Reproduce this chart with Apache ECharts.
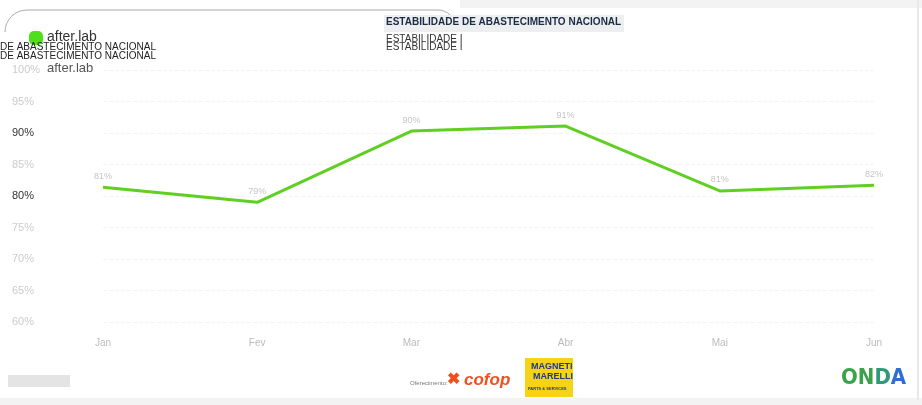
<!DOCTYPE html>
<html>
<head>
<meta charset="utf-8">
<script src="https://cdn.jsdelivr.net/npm/echarts@6/dist/echarts.min.js"></script>
<style>
  html, body { margin: 0; padding: 0; background: #fff; }
  #chart { width: 922px; height: 405px; }
</style>
</head>
<body>
<div id="chart"></div>
<script>
// dados
const categories = ['Jan', 'Fev', 'Mar', 'Abr', 'Mai', 'Jun']
const estabilidade = [81.4, 79.0, 90.3, 91.1, 80.8, 81.7]
const yMin = 60
const yMax = 100
const yStep = 5

const chart = echarts.init(document.getElementById('chart'))

chart.setOption({
  animation: false,
  // área do gráfico
  grid: { left: 103, right: 48, top: 70, height: 252 },
  xAxis: {
    type: 'category',
    boundaryGap: false,
    data: categories,
    axisLine: { show: false },
    axisTick: { show: false },
    axisLabel: { color: '#bbb', fontSize: 10, margin: 16 }
  },
  yAxis: {
    type: 'value',
    min: yMin,
    max: yMax,
    interval: yStep,
    axisLabel: {
      align: 'left',
      margin: 91,
      fontSize: 11,
      formatter: v => (v === 80 || v === 90) ? '{d|' + v + '%}' : '{g|' + v + '%}',
      rich: {
        d: { color: '#333', fontSize: 11 },
        g: { color: '#ccc', fontSize: 11 }
      }
    },
    splitLine: { lineStyle: { color: '#f4f4f4', type: 'dashed' } }
  },
  series: [
    {
      type: 'line',
      data: estabilidade,
      symbol: 'circle',
      symbolSize: 1,
      itemStyle: { color: 'rgba(0,0,0,0)' },
      lineStyle: { color: '#5fcf22', width: 3 },
      label: {
        show: true,
        position: 'top',
        distance: 6,
        color: '#c4c4c4',
        fontSize: 9,
        formatter: p => Math.round(p.value) + '%'
      }
    }
  ],
  // cabeçalho e rodapé
  graphic: [
    { type: 'rect', shape: { x: 460, y: 0, width: 462, height: 8 }, style: { fill: '#f3f3f3' } },
    // moldura arredondada do cartão (só a parte de cima)
    { type: 'arc', shape: { cx: 27, cy: 32, r: 22, startAngle: Math.PI, endAngle: Math.PI * 1.5 }, style: { fill: null, stroke: '#aaa', lineWidth: 1 } },
    { type: 'line', shape: { x1: 27, y1: 10, x2: 438, y2: 10 }, style: { stroke: '#aaa', lineWidth: 1 } },
    { type: 'arc', shape: { cx: 438, cy: 27, r: 17, startAngle: Math.PI * 1.5, endAngle: Math.PI * 2 }, style: { fill: null, stroke: '#aaa', lineWidth: 1 } },
    { type: 'rect', shape: { x: 0, y: 398, width: 922, height: 7 }, style: { fill: '#f3f3f3' } },
    { type: 'rect', shape: { x: 917, y: 0, width: 2, height: 400 }, style: { fill: '#e8e8e8' } },
    { type: 'rect', shape: { x: 384, y: 15, width: 240, height: 17 }, style: { fill: '#eceef0' } },
    { type: 'text', left: 386, top: 17, style: { text: 'ESTABILIDADE DE ABASTECIMENTO NACIONAL', fill: '#1c2b44', font: 'bold 10px Arial' } },
    { type: 'text', left: 386, top: 34, style: { text: 'ESTABILIDADE I', fill: '#333', font: '10px Arial' } },
    { type: 'text', left: 386, top: 42, style: { text: 'ESTABILIDADE I', fill: '#333', font: '10px Arial' } },
    { type: 'rect', shape: { x: 29, y: 31, width: 14, height: 14, r: 5 }, style: { fill: '#4fe01c' } },
    { type: 'text', left: 47, top: 30, style: { text: 'after.lab', fill: '#333', font: '14px Arial' } },
    { type: 'text', left: 0, top: 42, style: { text: 'DE ABASTECIMENTO NACIONAL', fill: '#222', font: '10px Arial' } },
    { type: 'text', left: 0, top: 51, style: { text: 'DE ABASTECIMENTO NACIONAL', fill: '#222', font: '10px Arial' } },
    { type: 'text', left: 47, top: 62, style: { text: 'after.lab', fill: '#555', font: '13px Arial' } },
    { type: 'text', left: 410, top: 380, style: { text: 'Oferecimento:', fill: '#777', font: '6px Arial' } },
    { type: 'text', left: 447, top: 372, style: { text: '✖', fill: '#f0501e', font: 'bold 16px Arial' } },
    { type: 'text', left: 464, top: 372, style: { text: 'cofop', fill: '#f0501e', font: 'italic bold 17px Arial' } },
    { type: 'rect', shape: { x: 525, y: 358, width: 48, height: 39 }, style: { fill: '#f7d316' } },
    { type: 'text', left: 531, top: 362, style: { text: 'MAGNETI', fill: '#1c3a8a', font: 'bold 9px "Liberation Sans Narrow", Arial' } },
    { type: 'text', left: 533, top: 372, style: { text: 'MARELLI', fill: '#1c3a8a', font: 'bold 9px "Liberation Sans Narrow", Arial' } },
    { type: 'text', left: 528, top: 387, style: { text: 'PARTS & SERVICES', fill: '#1c3a8a', font: 'bold 4px Arial' } },
    {
      type: 'text', left: 841, top: 367,
      style: {
        text: '{a|ON}{b|D}{c|A}',
        font: 'bold 22px "DejaVu Sans Condensed", Arial',
        rich: {
          a: { fill: '#3aa24a', font: 'bold 22px "DejaVu Sans Condensed", Arial' },
          b: { fill: '#2f9a78', font: 'bold 22px "DejaVu Sans Condensed", Arial' },
          c: { fill: '#2f6fd0', font: 'bold 22px "DejaVu Sans Condensed", Arial' }
        }
      }
    },
    { type: 'rect', shape: { x: 8, y: 375, width: 62, height: 12 }, style: { fill: '#e4e4e4' } }
  ]
})
</script>
</body>
</html>
